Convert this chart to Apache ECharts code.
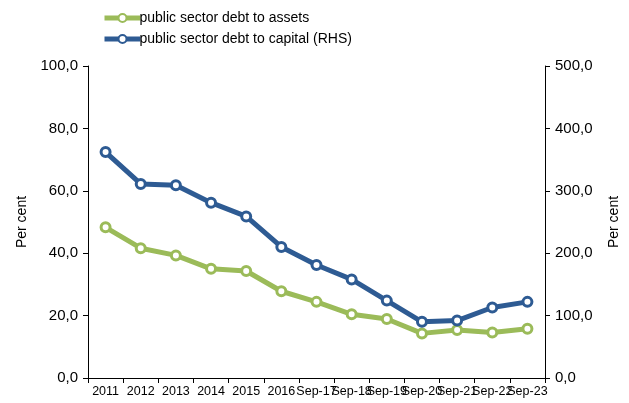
<!DOCTYPE html>
<html>
<head>
<meta charset="utf-8">
<script src="https://cdn.jsdelivr.net/npm/echarts@6/dist/echarts.min.js"></script>
<style>
  html, body { margin: 0; padding: 0; background: #fff; }
  #chart { width: 629px; height: 403px; }
</style>
</head>
<body>
<div id="chart"></div>
<script>
// Periods on the horizontal axis
const categories = ['2011', '2012', '2013', '2014', '2015', '2016',
  'Sep-17', 'Sep-18', 'Sep-19', 'Sep-20', 'Sep-21', 'Sep-22', 'Sep-23'];

// Public sector debt to assets, per cent (left axis)
const debtToAssets = [48.3, 41.6, 39.3, 35.0, 34.3, 27.8, 24.4, 20.4, 18.9, 14.3, 15.4, 14.6, 15.8];

// Public sector debt to capital, per cent (right axis)
const debtToCapital = [362, 311, 309, 281, 259, 210, 181, 158, 124, 90, 92, 113, 122];

// Axis ranges
const leftMax = 100, leftStep = 20;
const rightMax = 500, rightStep = 100;

const fontFamily = '"Liberation Sans", Arial, sans-serif';
const green = '#9bbb59';
const blue = '#2e5b93';

const fmt = v => v.toFixed(1).replace('.', ',');

const chart = echarts.init(document.getElementById('chart'));
chart.setOption({
  animation: false,
  textStyle: { fontFamily: fontFamily, color: '#000' },
  legend: {
    orient: 'vertical',
    left: 97,
    top: 6,
    itemGap: 7,
    itemWidth: 36,
    itemHeight: 10,
    lineStyle: { width: 5 },
    textStyle: { fontSize: 14, color: '#000', fontFamily: fontFamily, padding: [0, 0, 0, -6] },
    data: ['public sector debt to assets', 'public sector debt to capital (RHS)']
  },
  grid: { left: 88, right: 84, top: 66, bottom: 25, containLabel: false },
  xAxis: {
    type: 'category',
    data: categories,
    boundaryGap: true,
    axisLine: { lineStyle: { color: '#000', width: 1 } },
    axisTick: { show: true, alignWithLabel: false, length: 5, lineStyle: { color: '#000' } },
    axisLabel: { interval: 0, hideOverlap: false, fontSize: 12.5, color: '#000', margin: 7 }
  },
  yAxis: [
    {
      type: 'value',
      min: 0, max: leftMax, interval: leftStep,
      name: 'Per cent',
      nameLocation: 'middle',
      nameRotate: 90,
      nameGap: 55,
      nameTextStyle: { fontSize: 14, color: '#000' },
      axisLine: { show: true, lineStyle: { color: '#000' } },
      axisTick: { show: true, length: 5, lineStyle: { color: '#000' } },
      splitLine: { show: false },
      axisLabel: { fontSize: 15, color: '#000', margin: 10, formatter: fmt }
    },
    {
      type: 'value',
      min: 0, max: rightMax, interval: rightStep,
      name: 'Per cent',
      nameLocation: 'middle',
      nameRotate: 90,
      nameGap: 62,
      nameTextStyle: { fontSize: 14, color: '#000' },
      axisLine: { show: true, lineStyle: { color: '#000' } },
      axisTick: { show: true, length: 5, lineStyle: { color: '#000' } },
      splitLine: { show: false },
      axisLabel: { fontSize: 15, color: '#000', margin: 10, formatter: fmt }
    }
  ],
  series: [
    {
      name: 'public sector debt to assets',
      type: 'line',
      yAxisIndex: 0,
      data: debtToAssets,
      symbol: 'circle',
      symbolSize: 9,
      showAllSymbol: true,
      lineStyle: { color: green, width: 5 },
      itemStyle: { color: '#fff', borderColor: green, borderWidth: 3 }
    },
    {
      name: 'public sector debt to capital (RHS)',
      type: 'line',
      yAxisIndex: 1,
      data: debtToCapital,
      symbol: 'circle',
      symbolSize: 9,
      showAllSymbol: true,
      lineStyle: { color: blue, width: 5 },
      itemStyle: { color: '#fff', borderColor: blue, borderWidth: 3 }
    }
  ]
});
</script>
</body>
</html>
